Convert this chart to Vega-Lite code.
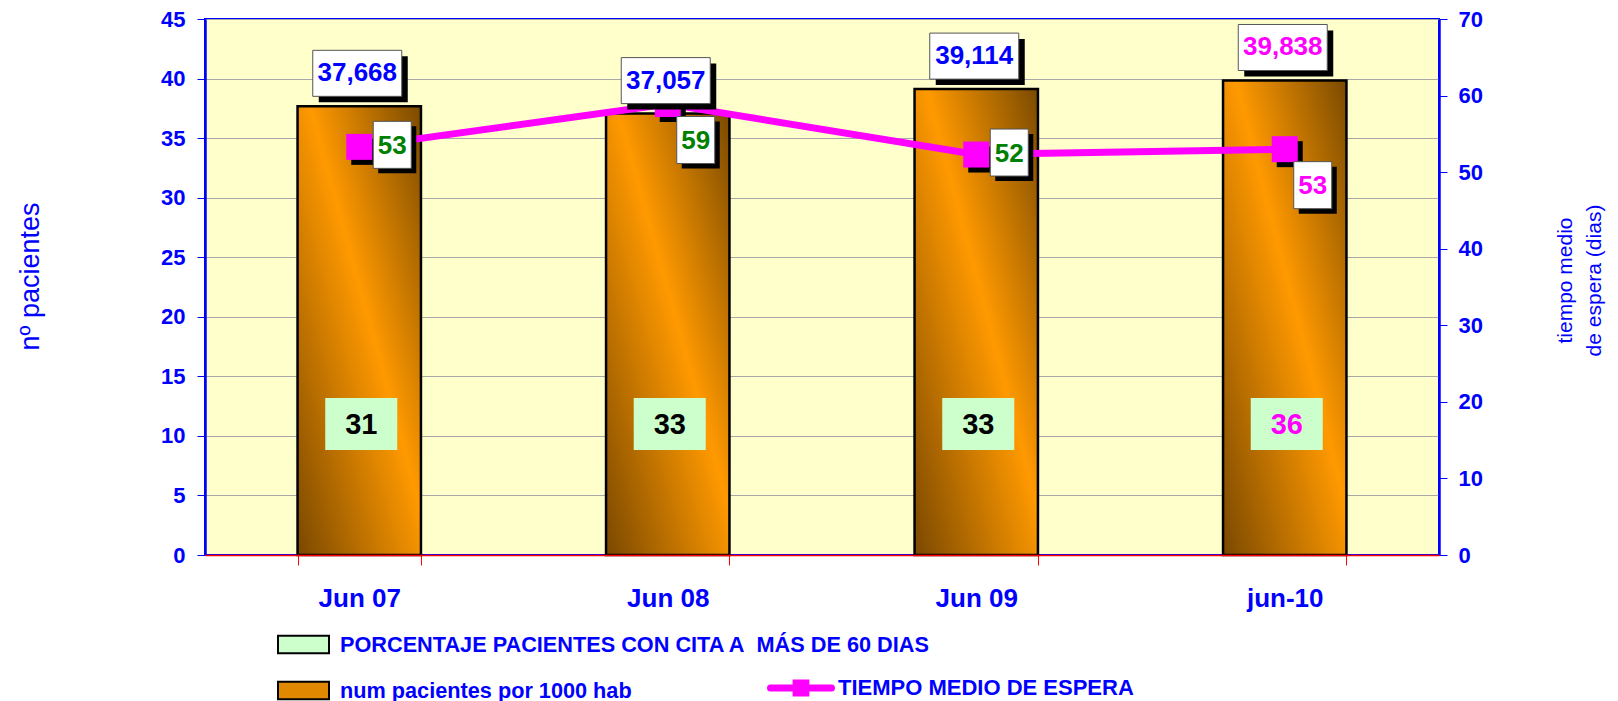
{
  "$schema": "https://vega.github.io/schema/vega-lite/v6.json",
  "width": 1234,
  "height": 536,
  "autosize": {"type": "none"},
  "padding": {"left": 205, "top": 19, "right": 179, "bottom": 146},
  "background": "#FFFFFF",
  "config": {
    "font": "Liberation Sans",
    "view": {"fill": "#FFFFCC", "stroke": "#0000FF", "strokeWidth": 2},
    "locale": {"number": {"decimal": ",", "thousands": ".", "grouping": [3], "currency": ["", " €"]}}
  },
  "data": {
    "values": [
      {"mes": "Jun 07", "pacientes": 37.668, "tiempo": 53.3, "pct": 31},
      {"mes": "Jun 08", "pacientes": 37.057, "tiempo": 58.9, "pct": 33},
      {"mes": "Jun 09", "pacientes": 39.114, "tiempo": 52.3, "pct": 33},
      {"mes": "jun-10", "pacientes": 39.838, "tiempo": 53.0, "pct": 36}
    ]
  },
  "resolve": {"scale": {"y": "independent"}},
  "encoding": {
    "x": {
      "field": "mes", "type": "nominal", "sort": null,
      "scale": {"paddingInner": 0.6, "paddingOuter": 0.3},
      "axis": {
        "title": null, "labelAngle": 0, "labelFont": "Liberation Sans", "labelFontSize": 26, "labelFontWeight": "bold",
        "labelColor": "#0000FF", "labelPadding": 20, "domainColor": "#FF0000", "domainWidth": 1.5,
        "tickColor": "#FF0000", "tickSize": 10, "tickWidth": 1, "tickBand": "extent", "zindex": 1
      }
    }
  },
  "layer": [
    {
      "mark": {
        "type": "bar", "stroke": "#000000", "strokeWidth": 2.5,
        "fill": {"gradient": "linear", "x1": 0, "y1": 1, "x2": 1, "y2": 0, "stops": [{"offset": 0, "color": "#7A4800"}, {"offset": 0.55, "color": "#FF9900"}, {"offset": 1, "color": "#7A4A00"}]}
      },
      "encoding": {
        "y": {
          "field": "pacientes", "type": "quantitative",
          "scale": {"domain": [0, 45], "nice": false},
          "axis": {
            "orient": "left", "values": [0, 5, 10, 15, 20, 25, 30, 35, 40, 45],
            "labelFont": "Liberation Sans", "labelFontSize": 22, "labelFontWeight": "bold", "labelColor": "#0000FF",
            "labelPadding": 12, "domainColor": "#0000FF", "domainWidth": 2.5, "tickColor": "#0000FF", "tickSize": 8,
            "grid": true, "gridColor": "#A8A8A8", "gridWidth": 1.2, "zindex": 0,
            "title": "nº pacientes", "titleFont": "Liberation Sans", "titleFontSize": 27, "titleFontWeight": "normal",
            "titleColor": "#0000FF", "titleAngle": -90, "titleX": -175, "titleY": 257, "titleAlign": "center", "titleBaseline": "middle"
          }
        }
      }
    },
    {
      "mark": {"type": "point", "shape": "M-1.385,-1H1.385V1H-1.385Z", "size": 2704, "filled": true, "opacity": 1, "xOffset": 2},
      "encoding": {
        "y": {"datum": 11, "type": "quantitative", "scale": {"domain": [0, 45], "nice": false}, "axis": null},
        "fill": {
          "datum": "PORCENTAJE PACIENTES CON CITA A\u00a0 MÁS DE 60 DIAS",
          "scale": {
            "domain": ["PORCENTAJE PACIENTES CON CITA A\u00a0 MÁS DE 60 DIAS", "num pacientes por 1000 hab"],
            "range": ["#CCFFCC", "#E08800"]
          },
          "legend": {
            "orient": "none", "legendX": 72, "legendY": 599, "direction": "vertical", "columns": 1, "title": null,
            "symbolType": "M-1,-0.34H1V0.34H-1Z", "symbolSize": 2601, "symbolStrokeColor": "#000000", "symbolStrokeWidth": 2,
            "labelFont": "Liberation Sans", "labelFontSize": 21.7, "labelFontWeight": "bold", "labelColor": "#0000FF",
            "labelOffset": 10, "rowPadding": 6, "labelLimit": 0,
            "encode": {
              "symbols": {"update": {"stroke": {"value": "#000000"}, "strokeWidth": {"value": 2}}}
            }
          }
        }
      }
    },
    {
      "mark": {"type": "text", "font": "Liberation Sans", "fontSize": 29, "fontWeight": "bold", "baseline": "middle", "align": "center", "dx": 2, "dy": 1},
      "encoding": {
        "y": {"datum": 11, "type": "quantitative", "scale": {"domain": [0, 45], "nice": false}, "axis": null},
        "text": {"field": "pct", "type": "quantitative", "format": ".0f"},
        "fill": {"condition": {"test": "datum.mes === 'jun-10'", "value": "#FF00FF"}, "value": "#000000"}
      }
    },
    {
      "mark": {"type": "line", "strokeWidth": 7},
      "encoding": {
        "y": {
          "field": "tiempo", "type": "quantitative",
          "scale": {"domain": [0, 70], "nice": false},
          "axis": {
            "orient": "right", "values": [0, 10, 20, 30, 40, 50, 60, 70],
            "labelFont": "Liberation Sans", "labelFontSize": 22, "labelFontWeight": "bold", "labelColor": "#0000FF",
            "labelPadding": 11, "domainColor": "#0000FF", "domainWidth": 2.5, "tickColor": "#0000FF", "tickSize": 8,
            "grid": false,
            "title": ["tiempo medio", "de espera (dias)"], "titleFont": "Liberation Sans", "titleFontSize": 21, "titleFontWeight": "normal",
            "titleColor": "#0000FF", "titleAngle": -90, "titleX": 126, "titleY": 261, "titleAlign": "center", "titleBaseline": "middle", "titleLineHeight": 29
          }
        },
        "stroke": {
          "datum": "TIEMPO MEDIO DE ESPERA",
          "scale": {"domain": ["TIEMPO MEDIO DE ESPERA"], "range": ["#FF00FF"]},
          "legend": {
            "orient": "none", "legendX": 562, "legendY": 635, "title": null,
            "symbolType": "M-1,0H1M-0.16,-0.16H0.16V0.16H-0.16Z", "symbolSize": 3721, "symbolStrokeWidth": 7,
            "labelFont": "Liberation Sans", "labelFontSize": 22, "labelFontWeight": "bold", "labelColor": "#0000FF",
            "labelOffset": 3, "labelLimit": 0,
            "encode": {"symbols": {"update": {"fill": {"value": "#FF00FF"}, "stroke": {"value": "#FF00FF"}, "strokeWidth": {"value": 7}, "strokeCap": {"value": "round"}, "opacity": {"value": 1}}}}
          }
        }
      }
    },
    {
      "mark": {"type": "point", "shape": "square", "size": 676, "filled": true, "color": "#000000", "opacity": 1, "xOffset": 5, "yOffset": 5},
      "encoding": {"y": {"field": "tiempo", "type": "quantitative", "scale": {"domain": [0, 70], "nice": false}, "axis": null}}
    },
    {
      "mark": {"type": "point", "shape": "square", "size": 676, "filled": true, "color": "#FF00FF", "opacity": 1},
      "encoding": {"y": {"field": "tiempo", "type": "quantitative", "scale": {"domain": [0, 70], "nice": false}, "axis": null}}
    },
    {
      "transform": [{"filter": "datum.mes === 'Jun 07' || datum.mes === 'Jun 09'"}],
      "layer": [
        {"mark": {"type": "point", "shape": "M-0.809,-1H0.809V1H-0.809Z", "size": 2209, "filled": true, "color": "#000000", "opacity": 1, "xOffset": 38, "yOffset": 3}},
        {"mark": {"type": "point", "shape": "M-0.809,-1H0.809V1H-0.809Z", "size": 2209, "filled": true, "fill": "#FFFFFF", "stroke": "#555555", "strokeWidth": 1, "opacity": 1, "xOffset": 33, "yOffset": -2}},
        {
          "mark": {"type": "text", "font": "Liberation Sans", "fontSize": 26, "fontWeight": "bold", "baseline": "middle", "align": "center", "dx": 33, "dy": -1},
          "encoding": {
            "text": {"field": "tiempo", "type": "quantitative", "format": ".0f"},
            "fill": {"condition": {"test": "datum.mes === 'jun-10'", "value": "#FF00FF"}, "value": "#008000"}
          }
        }
      ],
      "encoding": {"y": {"field": "tiempo", "type": "quantitative", "scale": {"domain": [0, 70], "nice": false}, "axis": null}}
    },
    {
      "transform": [{"filter": "datum.mes === 'Jun 08' || datum.mes === 'jun-10'"}],
      "layer": [
        {"mark": {"type": "point", "shape": "M-0.809,-1H0.809V1H-0.809Z", "size": 2209, "filled": true, "color": "#000000", "opacity": 1, "xOffset": 33, "yOffset": 41}},
        {"mark": {"type": "point", "shape": "M-0.809,-1H0.809V1H-0.809Z", "size": 2209, "filled": true, "fill": "#FFFFFF", "stroke": "#555555", "strokeWidth": 1, "opacity": 1, "xOffset": 28, "yOffset": 36}},
        {
          "mark": {"type": "text", "font": "Liberation Sans", "fontSize": 26, "fontWeight": "bold", "baseline": "middle", "align": "center", "dx": 28, "dy": 37},
          "encoding": {
            "text": {"field": "tiempo", "type": "quantitative", "format": ".0f"},
            "fill": {"condition": {"test": "datum.mes === 'jun-10'", "value": "#FF00FF"}, "value": "#008000"}
          }
        }
      ],
      "encoding": {"y": {"field": "tiempo", "type": "quantitative", "scale": {"domain": [0, 70], "nice": false}, "axis": null}}
    },
    {
      "layer": [
        {"mark": {"type": "point", "shape": "M-1,-0.517H1V0.517H-1Z", "size": 7921, "filled": true, "color": "#000000", "opacity": 1, "xOffset": 4, "yOffset": -27}},
        {"mark": {"type": "point", "shape": "M-1,-0.517H1V0.517H-1Z", "size": 7921, "filled": true, "fill": "#FFFFFF", "stroke": "#555555", "strokeWidth": 1, "opacity": 1, "xOffset": -2, "yOffset": -33}},
        {
          "mark": {"type": "text", "font": "Liberation Sans", "fontSize": 26, "fontWeight": "bold", "baseline": "middle", "align": "center", "dx": -2, "dy": -33},
          "encoding": {
            "text": {"field": "pacientes", "type": "quantitative", "format": ".3f"},
            "fill": {"condition": {"test": "datum.mes === 'jun-10'", "value": "#FF00FF"}, "value": "#0000FF"}
          }
        }
      ],
      "encoding": {"y": {"field": "pacientes", "type": "quantitative", "scale": {"domain": [0, 45], "nice": false}, "axis": null}}
    }
  ]
}
